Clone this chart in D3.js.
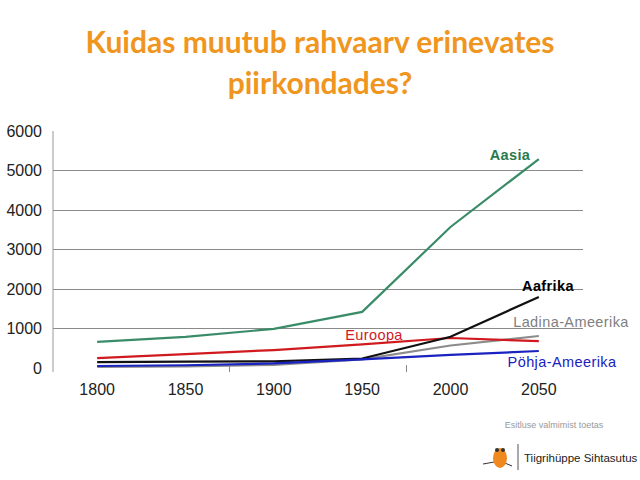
<!DOCTYPE html>
<html><head><meta charset="utf-8">
<script src="https://cdn.jsdelivr.net/npm/d3@7"></script>
<style>body{margin:0;background:#fff}svg{display:block}</style>
</head><body>
<script>
const years = ["1800","1850","1900","1950","2000","2050"];
const aasia = [660, 790, 990, 1420, 3570, 5290];
const aafrika = [150, 160, 170, 240, 790, 1800];
const ladinaAmeerika = [30, 40, 80, 220, 570, 810];
const euroopa = [250, 350, 455, 600, 760, 680];
const pohjaAmeerika = [50, 70, 115, 220, 330, 430];
const yTicks = [0, 1000, 2000, 3000, 4000, 5000, 6000];
const seriesNames = ["Ladina-Ameerika","Pöhja-Ameerika","Euroopa","Aafrika","Aasia"];

const W = 640, H = 480;
const svg = d3.select("body").append("svg").attr("width", W).attr("height", H);

// Title
const title = svg.append("text").attr("x", 320).attr("text-anchor", "middle")
  .attr("font-family", "Lato, 'Open Sans', sans-serif").attr("font-weight", "bold")
  .attr("font-size", 30).attr("fill", "#f0951e");
title.append("tspan").attr("x", 320).attr("y", 53).text("Kuidas muutub rahvaarv erinevates");
title.append("tspan").attr("x", 320).attr("y", 94).text("piirkondades?");

const x = d3.scaleBand().domain(years).range([53, 583]).padding(0);
const y = d3.scaleLinear().domain([0, 6000]).range([368, 131]);
const cx = d => x(d) + x.bandwidth() / 2;

// gridlines
svg.append("g").selectAll("line").data(yTicks.filter(t => t > 0 && t < 6000)).join("line")
  .attr("x1", 53).attr("x2", 583).attr("y1", d => y(d)).attr("y2", d => y(d))
  .attr("stroke", "#8a8a8a").attr("stroke-width", 1).attr("shape-rendering", "crispEdges");

// y axis
const yAxis = svg.append("g").attr("transform", "translate(53,0)")
  .call(d3.axisLeft(y).tickValues(yTicks).tickSize(0).tickPadding(11).tickFormat(d3.format("d")));
yAxis.select(".domain").attr("stroke", "#999").attr("d", `M0,${y(6000)}V${y(0) + 4}`);
yAxis.selectAll("text").attr("font-family", "Liberation Sans, Arial, sans-serif")
  .attr("font-size", 16).attr("fill", "#222");

// x axis labels
const xAxis = svg.append("g").attr("transform", `translate(0,${y(0)})`)
  .call(d3.axisBottom(x).tickSize(0).tickPadding(16));
xAxis.select(".domain").remove();
xAxis.selectAll("text").attr("font-family", "Liberation Sans, Arial, sans-serif")
  .attr("font-size", 16).attr("fill", "#222");

// small category ticks
svg.append("g").selectAll("line").data([years[2], years[4]]).join("line")
  .attr("x1", d => x(d)).attr("x2", d => x(d)).attr("y1", y(0) - 3).attr("y2", y(0) + 4)
  .attr("stroke", "#888").attr("stroke-width", 1).attr("shape-rendering", "crispEdges");

const series = [
  {name: "Ladina-Ameerika", values: ladinaAmeerika, color: "#8c8c8c"},
  {name: "Euroopa", values: euroopa, color: "#d01a1f"},
  {name: "Aafrika", values: aafrika, color: "#111111"},
  {name: "Pöhja-Ameerika", values: pohjaAmeerika, color: "#1a22c0"},
  {name: "Aasia", values: aasia, color: "#3a8c68"}
];
const line = d3.line().x((d, i) => cx(years[i])).y(d => y(d));
svg.append("g").selectAll("path").data(series).join("path")
  .attr("d", s => line(s.values)).attr("fill", "none")
  .attr("stroke", s => s.color).attr("stroke-width", 2.2);

// series labels
const labels = [
  {text: "Aasia", x: 510, y: 160, color: "#2a7a4e", weight: "bold"},
  {text: "Aafrika", x: 548, y: 291, color: "#000", weight: "bold"},
  {text: "Ladina-Ameerika", x: 571, y: 327, color: "#7f7f7f", weight: "normal"},
  {text: "Euroopa", x: 374, y: 340, color: "#d01a1f", weight: "normal"},
  {text: "Pöhja-Ameerika", x: 562, y: 367, color: "#1a22c0", weight: "normal"}
];
svg.append("g").selectAll("text").data(labels).join("text")
  .attr("x", d => d.x).attr("y", d => d.y).attr("text-anchor", "middle")
  .attr("font-family", "Liberation Sans, Arial, sans-serif").attr("font-size", 14.5)
  .attr("font-weight", d => d.weight).attr("fill", d => d.color)
  .attr("letter-spacing", 0.4).text(d => d.text);

// footer
svg.append("text").attr("x", 554).attr("y", 428).attr("text-anchor", "middle")
  .attr("font-family", "Liberation Sans, Arial, sans-serif").attr("font-size", 9)
  .attr("fill", "#999").text("Esitluse valmimist toetas");
const logo = svg.append("g");
logo.append("path").attr("d", "M483,464 L500,461 L512,466").attr("stroke", "#333").attr("fill", "none").attr("stroke-width", 1);
logo.append("ellipse").attr("cx", 500).attr("cy", 458).attr("rx", 7).attr("ry", 10).attr("fill", "#f08a1e");
logo.append("circle").attr("cx", 497).attr("cy", 450).attr("r", 2).attr("fill", "#333");
logo.append("circle").attr("cx", 503).attr("cy", 450).attr("r", 2).attr("fill", "#333");
logo.append("line").attr("x1", 518).attr("x2", 518).attr("y1", 444).attr("y2", 470).attr("stroke", "#555");
svg.append("text").attr("x", 524).attr("y", 462)
  .attr("font-family", "Liberation Sans Narrow, Arial Narrow, sans-serif").attr("font-size", 11.5)
  .attr("fill", "#222").text("Tiigrihüppe Sihtasutus");
</script>
</body></html>
